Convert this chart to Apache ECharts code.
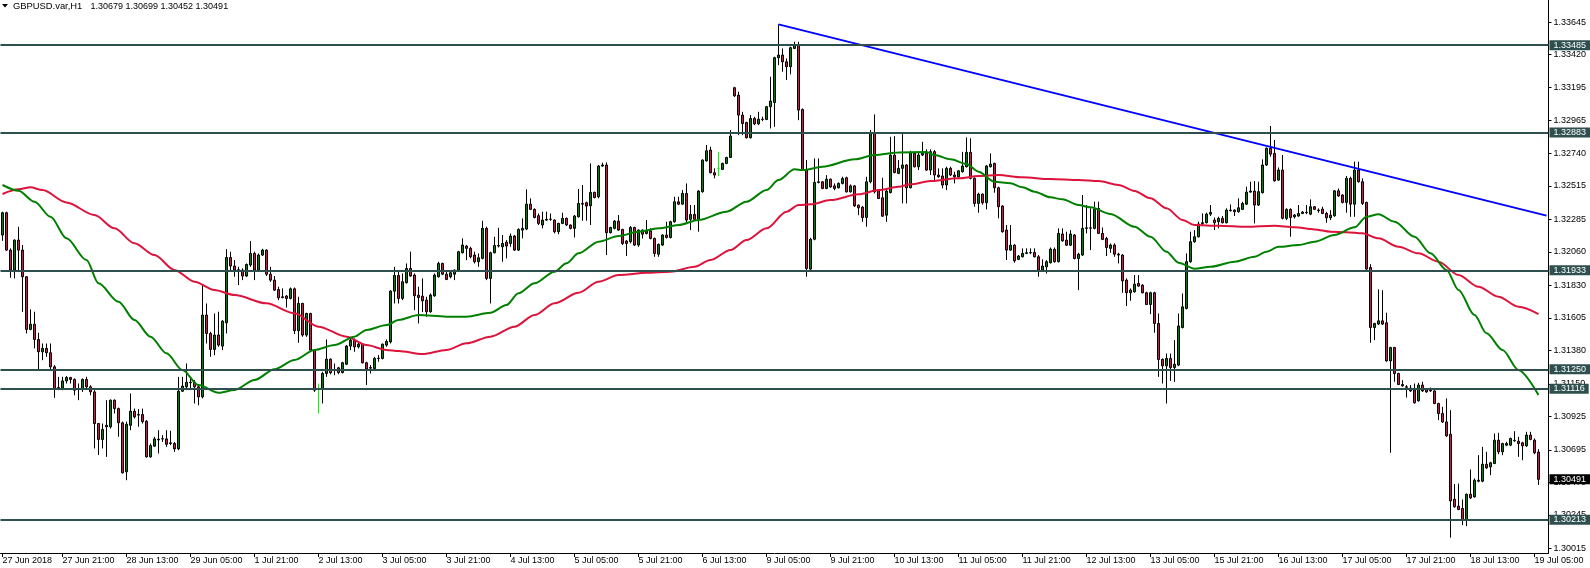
<!DOCTYPE html>
<html><head><meta charset="utf-8">
<script src="https://cdn.jsdelivr.net/npm/echarts@6/dist/echarts.min.js"></script>
<style>html,body{margin:0;padding:0;background:#fff;}#c{width:1590px;height:568px;}</style>
</head><body><div id="c"></div>
<script>
const symbolName = 'GBPUSD.var,H1';
const tickLabels = ['27 Jun 2018','27 Jun 21:00','28 Jun 13:00','29 Jun 05:00','1 Jul 21:00','2 Jul 13:00','3 Jul 05:00','3 Jul 21:00','4 Jul 13:00','5 Jul 05:00','5 Jul 21:00','6 Jul 13:00','9 Jul 05:00','9 Jul 21:00','10 Jul 13:00','11 Jul 05:00','11 Jul 21:00','12 Jul 13:00','13 Jul 05:00','15 Jul 21:00','16 Jul 13:00','17 Jul 05:00','17 Jul 21:00','18 Jul 13:00','19 Jul 05:00'];
const priceTicks = [1.33645,1.33420,1.33195,1.32965,1.32740,1.32515,1.32285,1.32060,1.31830,1.31605,1.31380,1.31150,1.30925,1.30695,1.30470,1.30245,1.30015];
const levels = [1.33485,1.32883,1.31933,1.31250,1.31116,1.30213];

const opens = [
1.32176,1.32330,1.32072,1.31934,1.32141,1.32072,1.31888,1.31525,1.31561,1.31456,
1.31371,1.31394,1.31364,1.31267,1.31124,1.31117,1.31170,1.31193,1.31180,1.31117,
1.31110,1.31180,1.31129,1.31094,1.30876,1.30766,1.30853,1.30853,1.31037,1.30979,
1.30881,1.30543,1.30864,1.30961,1.30938,1.30938,1.30892,1.30646,1.30720,1.30768,
1.30770,1.30770,1.30743,1.30738,1.30701,1.31099,1.31129,1.31161,1.31161,1.31129,
1.31060,1.31624,1.31497,1.31387,1.31486,1.31410,1.31571,1.32021,1.31962,1.31934,
1.31934,1.31893,1.31969,1.32049,1.31934,1.32038,1.32072,1.31906,1.31865,1.31800,
1.31750,1.31755,1.31739,1.31805,1.31516,1.31704,1.31486,1.31635,1.31382,1.31117,
1.31117,1.31221,1.31320,1.31244,1.31260,1.31228,1.31285,1.31410,1.31451,1.31405,
1.31423,1.31295,1.31258,1.31255,1.31325,1.31325,1.31417,1.31439,1.31789,1.31897,
1.31739,1.31847,1.31945,1.31900,1.31761,1.31754,1.31727,1.31647,1.31757,1.31888,
1.31980,1.31906,1.31888,1.31906,1.31934,1.32054,1.32100,1.32084,1.32038,1.31992,
1.32015,1.32222,1.31877,1.32054,1.32100,1.32095,1.32127,1.32118,1.32169,1.32072,
1.32210,1.32217,1.32389,1.32353,1.32309,1.32245,1.32284,1.32284,1.32279,1.32199,
1.32256,1.32291,1.32245,1.32222,1.32302,1.32394,1.32399,1.32378,1.32470,1.32440,
1.32652,1.32659,1.32192,1.32222,1.32272,1.32215,1.32134,1.32130,1.32228,1.32107,
1.32210,1.32187,1.32205,1.32152,1.32044,1.32107,1.32176,1.32159,1.32268,1.32405,
1.32389,1.32463,1.32284,1.32318,1.32284,1.32475,1.32688,1.32762,1.32606,1.32636,
1.32629,1.32670,1.32711,1.33192,1.33141,1.33003,1.32952,1.32847,1.32980,1.32943,
1.32975,1.32973,1.33061,1.33090,1.33399,1.33417,1.33371,1.33337,1.33463,1.33486,
1.33042,1.32624,1.31941,1.32147,1.32539,1.32543,1.32497,1.32561,1.32515,1.32502,
1.32532,1.32571,1.32474,1.32515,1.32382,1.32368,1.32297,1.32543,1.32883,1.32486,
1.32433,1.32313,1.32469,1.32727,1.32601,1.32636,1.32659,1.32502,1.32739,1.32647,
1.32728,1.32739,1.32624,1.32751,1.32590,1.32583,1.32521,1.32636,1.32590,1.32578,
1.32613,1.32647,1.32746,1.32567,1.32394,1.32458,1.32399,1.32647,1.32670,1.32502,
1.32376,1.32210,1.32072,1.32106,1.32008,1.32026,1.32049,1.32054,1.32056,1.32026,
1.31934,1.31957,1.31985,1.32077,1.31992,1.32183,1.32141,1.32106,1.32176,1.32014,
1.32038,1.32222,1.32226,1.32222,1.32359,1.32187,1.32152,1.32084,1.32107,1.32044,
1.32038,1.31865,1.31778,1.31785,1.31842,1.31830,1.31778,1.31697,1.31778,1.31566,
1.31318,1.31274,1.31325,1.31262,1.31279,1.31538,1.31670,1.31992,1.32130,1.32164,
1.32256,1.32261,1.32320,1.32279,1.32268,1.32291,1.32261,1.32348,1.32348,1.32337,
1.32353,1.32389,1.32472,1.32479,1.32383,1.32468,1.32659,1.32774,1.32739,1.32555,
1.32624,1.32291,1.32353,1.32302,1.32307,1.32325,1.32332,1.32320,1.32371,1.32348,
1.32355,1.32325,1.32295,1.32309,1.32481,1.32452,1.32401,1.32567,1.32389,1.32624,
1.32544,1.32401,1.31952,1.31538,1.31562,1.31584,1.31571,1.31308,1.31400,1.31221,
1.31145,1.31129,1.31120,1.31106,1.31033,1.31141,1.31110,1.31106,1.31101,1.31014,
1.30945,1.30887,1.30802,1.30354,1.30306,1.30290,1.30209,1.30388,1.30370,1.30485,
1.30478,1.30595,1.30577,1.30600,1.30761,1.30681,1.30727,1.30727,1.30760,1.30754,
1.30743,1.30722,1.30796,1.30761,1.30679];

const highs = [
1.32337,1.32337,1.32084,1.32146,1.32233,1.32107,1.31893,1.31663,1.31647,1.31502,
1.31428,1.31428,1.31428,1.31279,1.31198,1.31198,1.31203,1.31198,1.31187,1.31152,
1.31187,1.31198,1.31140,1.31106,1.30880,1.30876,1.31037,1.31042,1.31042,1.30986,
1.30889,1.30889,1.31083,1.30979,1.30975,1.30979,1.30899,1.30738,1.30784,1.30830,
1.30796,1.30830,1.30826,1.30749,1.31198,1.31198,1.31290,1.31198,1.31175,1.31140,
1.31831,1.31704,1.31509,1.31635,1.31647,1.31589,1.32079,1.32061,1.32003,1.31957,
1.31946,1.31980,1.32134,1.32061,1.32049,1.32081,1.32077,1.31957,1.31893,1.31819,
1.31808,1.31762,1.31814,1.31814,1.31750,1.31709,1.31640,1.31640,1.31387,1.31152,
1.31233,1.31456,1.31325,1.31290,1.31267,1.31302,1.31417,1.31474,1.31463,1.31433,
1.31428,1.31302,1.31279,1.31336,1.31348,1.31428,1.31456,1.31796,1.31957,1.31934,
1.31911,1.31980,1.32061,1.31911,1.31819,1.31877,1.31750,1.31773,1.31911,1.31992,
1.31985,1.31923,1.31923,1.31939,1.32067,1.32153,1.32107,1.32095,1.32061,1.32049,
1.32274,1.32233,1.32061,1.32164,1.32226,1.32176,1.32141,1.32187,1.32176,1.32222,
1.32291,1.32491,1.32429,1.32360,1.32325,1.32337,1.32337,1.32325,1.32284,1.32261,
1.32330,1.32297,1.32249,1.32314,1.32493,1.32521,1.32406,1.32670,1.32475,1.32659,
1.32675,1.32677,1.32233,1.32279,1.32314,1.32219,1.32141,1.32238,1.32233,1.32215,
1.32215,1.32279,1.32222,1.32159,1.32118,1.32182,1.32268,1.32274,1.32440,1.32440,
1.32486,1.32532,1.32383,1.32383,1.32486,1.32698,1.32797,1.32785,1.32636,1.32750,
1.32675,1.32716,1.32900,1.33198,1.33164,1.33026,1.32957,1.33003,1.32992,1.33026,
1.32992,1.33065,1.33268,1.33406,1.33629,1.33463,1.33394,1.33475,1.33509,1.33509,
1.33049,1.32693,1.32157,1.32704,1.32704,1.32548,1.32589,1.32566,1.32532,1.32539,
1.32578,1.32578,1.32525,1.32520,1.32387,1.32377,1.32578,1.32900,1.33008,1.32492,
1.32571,1.32486,1.32853,1.32858,1.32693,1.32872,1.32665,1.32757,1.32750,1.32750,
1.32819,1.32767,1.32767,1.32762,1.32636,1.32636,1.32647,1.32647,1.32613,1.32624,
1.32750,1.32849,1.32843,1.32574,1.32468,1.32463,1.32659,1.32739,1.32675,1.32509,
1.32382,1.32245,1.32245,1.32113,1.32038,1.32084,1.32084,1.32084,1.32084,1.32038,
1.32008,1.32003,1.32090,1.32090,1.32222,1.32222,1.32199,1.32210,1.32183,1.32054,
1.32452,1.32383,1.32360,1.32406,1.32406,1.32228,1.32164,1.32118,1.32118,1.32054,
1.32044,1.31877,1.31808,1.31900,1.31900,1.31837,1.31785,1.31785,1.31785,1.31635,
1.31325,1.31359,1.31359,1.31451,1.31635,1.31773,1.32049,1.32199,1.32210,1.32268,
1.32325,1.32330,1.32383,1.32297,1.32302,1.32307,1.32360,1.32387,1.32353,1.32429,
1.32405,1.32509,1.32544,1.32548,1.32544,1.32698,1.32780,1.32928,1.32831,1.32642,
1.32728,1.32360,1.32360,1.32320,1.32383,1.32341,1.32383,1.32422,1.32376,1.32360,
1.32371,1.32336,1.32348,1.32486,1.32497,1.32458,1.32583,1.32578,1.32682,1.32682,
1.32567,1.32406,1.31975,1.31571,1.31801,1.31796,1.31640,1.31405,1.31405,1.31226,
1.31175,1.31141,1.31141,1.31152,1.31157,1.31164,1.31117,1.31124,1.31106,1.31019,
1.30991,1.31049,1.30968,1.30458,1.30462,1.30352,1.30393,1.30559,1.30497,1.30658,
1.30715,1.30681,1.30612,1.30807,1.30812,1.30743,1.30750,1.30779,1.30823,1.30784,
1.30750,1.30819,1.30819,1.30773,1.30699];

const lows = [
1.32136,1.32067,1.31881,1.31877,1.31934,1.31646,1.31497,1.31520,1.31394,1.31251,
1.31313,1.31336,1.31244,1.31053,1.31106,1.31106,1.31152,1.31152,1.31071,1.31037,
1.31094,1.31117,1.31071,1.30704,1.30659,1.30704,1.30646,1.30841,1.30945,1.30784,
1.30531,1.30485,1.30830,1.30911,1.30853,1.30876,1.30641,1.30641,1.30715,1.30669,
1.30749,1.30715,1.30727,1.30680,1.30692,1.31094,1.31106,1.31106,1.31014,1.31002,
1.31049,1.31428,1.31336,1.31347,1.31405,1.31382,1.31497,1.31934,1.31888,1.31831,
1.31865,1.31888,1.31957,1.31865,1.31923,1.32031,1.31893,1.31853,1.31791,1.31727,
1.31739,1.31676,1.31732,1.31493,1.31433,1.31474,1.31474,1.31371,1.31094,1.30945,
1.31014,1.31198,1.31216,1.31209,1.31216,1.31221,1.31279,1.31382,1.31371,1.31394,
1.31290,1.31141,1.31221,1.31244,1.31302,1.31318,1.31405,1.31428,1.31704,1.31704,
1.31727,1.31842,1.31888,1.31658,1.31566,1.31646,1.31612,1.31640,1.31750,1.31883,
1.31900,1.31865,1.31877,1.31865,1.31929,1.32049,1.32003,1.32015,1.31980,1.31957,
1.32008,1.31865,1.31704,1.32049,1.32090,1.31992,1.32015,1.32095,1.32067,1.32067,
1.32153,1.32210,1.32348,1.32291,1.32245,1.32222,1.32274,1.32274,1.32187,1.32182,
1.32251,1.32238,1.32215,1.32159,1.32297,1.32274,1.32274,1.32245,1.32429,1.32429,
1.32647,1.32038,1.32187,1.32215,1.32205,1.32107,1.32031,1.32118,1.32100,1.32095,
1.32152,1.32180,1.32146,1.32026,1.32026,1.32100,1.32152,1.32152,1.32261,1.32383,
1.32385,1.32256,1.32210,1.32279,1.32199,1.32468,1.32682,1.32601,1.32567,1.32583,
1.32624,1.32665,1.32707,1.33129,1.32865,1.32865,1.32842,1.32842,1.32934,1.32934,
1.32962,1.32968,1.32911,1.32922,1.33348,1.33302,1.33245,1.33284,1.33458,1.32968,
1.32617,1.31888,1.31922,1.32140,1.32532,1.32492,1.32492,1.32502,1.32485,1.32497,
1.32525,1.32469,1.32469,1.32370,1.32313,1.32267,1.32233,1.32532,1.32463,1.32424,
1.32302,1.32267,1.32463,1.32601,1.32596,1.32394,1.32394,1.32498,1.32642,1.32624,
1.32721,1.32619,1.32590,1.32544,1.32571,1.32498,1.32486,1.32583,1.32532,1.32571,
1.32606,1.32642,1.32560,1.32371,1.32330,1.32385,1.32353,1.32642,1.32468,1.32291,
1.32192,1.32003,1.32067,1.31985,1.32003,1.32021,1.32044,1.32044,1.32021,1.31888,
1.31930,1.31911,1.31980,1.31985,1.31987,1.32130,1.32100,1.32100,1.32008,1.31796,
1.32031,1.32187,1.32072,1.32215,1.32183,1.32141,1.32031,1.32054,1.32026,1.31980,
1.31778,1.31686,1.31722,1.31778,1.31819,1.31773,1.31693,1.31630,1.31502,1.31198,
1.31152,1.31014,1.31170,1.31163,1.31272,1.31532,1.31663,1.31985,1.32123,1.32159,
1.32245,1.32256,1.32307,1.32210,1.32222,1.32256,1.32256,1.32337,1.32307,1.32330,
1.32348,1.32383,1.32468,1.32256,1.32376,1.32463,1.32652,1.32716,1.32544,1.32550,
1.32284,1.32279,1.32164,1.32290,1.32302,1.32320,1.32320,1.32313,1.32348,1.32330,
1.32320,1.32261,1.32279,1.32302,1.32440,1.32394,1.32330,1.32302,1.32302,1.32537,
1.32383,1.31934,1.31433,1.31451,1.31555,1.31555,1.31302,1.30674,1.31164,1.31141,
1.31129,1.31055,1.31094,1.31014,1.31027,1.31094,1.31088,1.31094,1.31009,1.30899,
1.30881,1.30784,1.30089,1.30296,1.30278,1.30175,1.30168,1.30356,1.30365,1.30471,
1.30471,1.30563,1.30520,1.30596,1.30664,1.30658,1.30720,1.30720,1.30750,1.30646,
1.30623,1.30715,1.30761,1.30664,1.30452];

const closes = [
1.32330,1.32072,1.31934,1.32141,1.32072,1.31888,1.31525,1.31561,1.31456,1.31371,
1.31394,1.31364,1.31267,1.31117,1.31117,1.31170,1.31193,1.31180,1.31106,1.31110,
1.31180,1.31129,1.31094,1.30876,1.30766,1.30835,1.30864,1.31037,1.30979,1.30881,
1.30536,1.30871,1.30961,1.30922,1.30934,1.30889,1.30646,1.30724,1.30770,1.30763,
1.30771,1.30733,1.30738,1.30701,1.31099,1.31134,1.31161,1.31157,1.31129,1.31060,
1.31624,1.31497,1.31387,1.31486,1.31417,1.31582,1.32021,1.31962,1.31934,1.31936,
1.31893,1.31973,1.32049,1.31934,1.32038,1.32072,1.31906,1.31865,1.31796,1.31743,
1.31745,1.31739,1.31805,1.31516,1.31704,1.31486,1.31635,1.31382,1.31106,1.31117,
1.31221,1.31320,1.31226,1.31249,1.31228,1.31295,1.31410,1.31451,1.31405,1.31423,
1.31295,1.31251,1.31262,1.31325,1.31326,1.31423,1.31442,1.31789,1.31897,1.31739,
1.31854,1.31945,1.31893,1.31757,1.31745,1.31722,1.31647,1.31762,1.31900,1.31980,
1.31906,1.31870,1.31916,1.31934,1.32061,1.32107,1.32084,1.32026,1.31992,1.32019,
1.32222,1.31877,1.32054,1.32104,1.32104,1.32118,1.32100,1.32169,1.32072,1.32215,
1.32222,1.32389,1.32353,1.32297,1.32256,1.32279,1.32279,1.32286,1.32199,1.32256,
1.32291,1.32245,1.32222,1.32307,1.32394,1.32389,1.32376,1.32470,1.32435,1.32652,
1.32659,1.32192,1.32228,1.32272,1.32210,1.32118,1.32118,1.32228,1.32107,1.32210,
1.32182,1.32205,1.32152,1.32049,1.32111,1.32176,1.32159,1.32268,1.32405,1.32389,
1.32463,1.32279,1.32318,1.32284,1.32479,1.32693,1.32757,1.32606,1.32590,1.32636,
1.32670,1.32711,1.32859,1.33136,1.33003,1.32945,1.32847,1.32980,1.32943,1.32975,
1.32973,1.33061,1.33100,1.33399,1.33417,1.33371,1.33337,1.33468,1.33486,1.33038,
1.32624,1.31945,1.32147,1.32539,1.32543,1.32497,1.32561,1.32508,1.32497,1.32532,
1.32566,1.32474,1.32515,1.32377,1.32364,1.32297,1.32543,1.32883,1.32474,1.32428,
1.32306,1.32479,1.32727,1.32607,1.32636,1.32659,1.32502,1.32744,1.32647,1.32728,
1.32739,1.32624,1.32751,1.32590,1.32578,1.32521,1.32636,1.32590,1.32578,1.32619,
1.32652,1.32746,1.32567,1.32394,1.32458,1.32399,1.32652,1.32665,1.32502,1.32371,
1.32199,1.32072,1.32106,1.31998,1.32031,1.32049,1.32054,1.32055,1.32026,1.31934,
1.31962,1.31992,1.32079,1.31992,1.32187,1.32136,1.32106,1.32183,1.32014,1.32044,
1.32222,1.32226,1.32223,1.32353,1.32187,1.32146,1.32090,1.32107,1.32044,1.32038,
1.31860,1.31778,1.31796,1.31837,1.31824,1.31778,1.31697,1.31778,1.31566,1.31318,
1.31274,1.31325,1.31262,1.31285,1.31548,1.31681,1.31992,1.32130,1.32164,1.32252,
1.32261,1.32320,1.32332,1.32261,1.32291,1.32261,1.32348,1.32344,1.32337,1.32364,
1.32394,1.32472,1.32479,1.32383,1.32475,1.32659,1.32774,1.32734,1.32550,1.32624,
1.32291,1.32353,1.32297,1.32314,1.32325,1.32334,1.32330,1.32371,1.32353,1.32344,
1.32325,1.32295,1.32313,1.32481,1.32445,1.32401,1.32567,1.32389,1.32624,1.32544,
1.32394,1.31941,1.31538,1.31566,1.31584,1.31562,1.31308,1.31400,1.31221,1.31145,
1.31136,1.31126,1.31101,1.31019,1.31141,1.31101,1.31094,1.31101,1.31014,1.30945,
1.30887,1.30791,1.30342,1.30302,1.30283,1.30209,1.30388,1.30363,1.30485,1.30478,
1.30595,1.30570,1.30605,1.30761,1.30681,1.30738,1.30738,1.30773,1.30757,1.30738,
1.30722,1.30796,1.30766,1.30674,1.30491];

const maFast = [[0,1.32521],[4,1.32482],[8,1.32406],[12,1.32302],[16,1.32153],[21,1.32004],[24,1.31843],[29,1.31716],[33,1.31590],[37,1.31475],[41,1.31360],[45,1.31245],[49,1.31141],[54,1.31088],[58,1.31107],[63,1.31176],[68,1.31250],[73,1.31314],[78,1.31383],[83,1.31417],[88,1.31475],[91,1.31521],[96,1.31555],[99,1.31590],[104,1.31624],[111,1.31613],[116,1.31613],[122,1.31640],[126,1.31693],[129,1.31774],[133,1.31843],[138,1.31923],[141,1.31981],[144,1.32050],[149,1.32130],[154,1.32169],[159,1.32199],[164,1.32222],[169,1.32245],[174,1.32280],[181,1.32337],[186,1.32406],[191,1.32486],[194,1.32555],[198,1.32629],[200,1.32624],[205,1.32647],[213,1.32698],[218,1.32728],[224,1.32746],[231,1.32748],[233,1.32728],[237,1.32698],[241,1.32666],[244,1.32613],[248,1.32544],[252,1.32533],[255,1.32505],[258,1.32475],[262,1.32436],[265,1.32422],[269,1.32383],[272,1.32367],[277,1.32321],[283,1.32233],[287,1.32164],[291,1.32061],[294,1.31985],[298,1.31944],[302,1.31957],[308,1.31992],[313,1.32026],[316,1.32061],[319,1.32095],[324,1.32107],[328,1.32130],[333,1.32176],[338,1.32229],[341,1.32302],[344,1.32319],[348,1.32268],[353,1.32164],[357,1.32050],[361,1.31935],[364,1.31797],[368,1.31624],[371,1.31498],[375,1.31383],[379,1.31245],[384,1.31072]];
const maSlow = [[0,1.32459],[4,1.32491],[7,1.32505],[10,1.32486],[16,1.32401],[23,1.32314],[28,1.32222],[33,1.32119],[38,1.32038],[43,1.31935],[48,1.31854],[53,1.31797],[58,1.31762],[66,1.31705],[73,1.31636],[79,1.31544],[86,1.31475],[91,1.31417],[96,1.31383],[99,1.31376],[105,1.31355],[111,1.31383],[116,1.31429],[122,1.31475],[128,1.31544],[133,1.31624],[138,1.31705],[144,1.31778],[149,1.31854],[154,1.31900],[161,1.31916],[167,1.31923],[173,1.31957],[177,1.32004],[182,1.32073],[186,1.32142],[191,1.32222],[196,1.32337],[199,1.32383],[202,1.32388],[207,1.32417],[214,1.32457],[219,1.32486],[224,1.32509],[227,1.32526],[232,1.32548],[239,1.32567],[244,1.32583],[249,1.32590],[255,1.32574],[262,1.32562],[269,1.32555],[274,1.32548],[279,1.32521],[283,1.32480],[287,1.32429],[291,1.32360],[295,1.32280],[298,1.32245],[304,1.32240],[311,1.32233],[318,1.32240],[323,1.32229],[328,1.32215],[332,1.32199],[336,1.32195],[340,1.32188],[344,1.32153],[349,1.32095],[354,1.32050],[359,1.31992],[364,1.31900],[369,1.31819],[374,1.31750],[379,1.31681],[384,1.31631]];
const trendLine = [[194,1.33629],[386,1.32310]];

// axis extent (price at top and bottom edge of the plot)
const yTop = 1.33797, yBottom = 1.29983;
const emptyBarsRight = 2;

const n = opens.length;
const cats = Array.from({length: n + emptyBarsRight}, (_, i) => 'b' + i);
const labelAt = {};
labelAt[0] = tickLabels[0];
for (let k = 1; k < tickLabels.length; k++) labelAt[15 + 16 * (k - 1)] = tickLabels[k];
const showIdx = (i) => labelAt[i] !== undefined;

const LIME = '#00FF00';
const candleData = opens.map((o, i) => {
  const item = { value: [o, closes[i], lows[i], highs[i]] };
  if (o === closes[i]) item.itemStyle = { color: LIME, color0: LIME, borderColor: LIME, borderColor0: LIME, borderColorDoji: LIME };
  return item;
});

const fmt = v => Number(v).toFixed(5);
const FONT = 'Liberation Sans, Arial, sans-serif';
const boxLabel = (bg) => ({ show: true, position: 'end', distance: 1, formatter: p => fmt(p.value), color: '#fff', backgroundColor: bg, padding: [1, 4, 0, 4], fontSize: 9, fontFamily: FONT });

const chart = echarts.init(document.getElementById('c'), null, { renderer: 'canvas' });
chart.setOption({
  animation: false,
  backgroundColor: '#ffffff',
  grid: { left: 0.5, right: 41.5, top: 0, bottom: 15, containLabel: false, outerBoundsMode: 'none' },
  xAxis: {
    type: 'category', data: cats, boundaryGap: true,
    axisLine: { show: true, lineStyle: { color: '#000', width: 1 } },
    axisTick: { show: true, alignWithLabel: true, interval: (i) => showIdx(i), length: 4, lineStyle: { color: '#000' } },
    axisLabel: { interval: (i) => showIdx(i), formatter: (v, i) => labelAt[i] || '', align: 'left', color: '#000', fontSize: 9, fontFamily: FONT, margin: 3, hideOverlap: false },
    splitLine: { show: false }
  },
  yAxis: {
    type: 'value', position: 'right', min: yBottom, max: yTop, scale: true,
    axisLine: { show: true, lineStyle: { color: '#000', width: 1 } },
    axisTick: { show: true, length: 3, customValues: priceTicks, lineStyle: { color: '#000' } },
    axisLabel: { customValues: priceTicks, formatter: v => fmt(v), color: '#000', fontSize: 9, fontFamily: FONT, margin: 5 },
    splitLine: { show: false }
  },
  graphic: [
    { type: 'polygon', shape: { points: [[2, 4], [8, 4], [5, 7.5]] }, style: { fill: '#000' } },
    { type: 'text', x: 13, y: 6.5, style: { text: symbolName, fill: '#000', font: '9.4px ' + FONT, verticalAlign: 'middle' } },
    { type: 'text', x: 90.5, y: 6.5, style: { text: [opens[n-1], highs[n-1], lows[n-1], closes[n-1]].map(fmt).join(' '), fill: '#000', font: '9px ' + FONT, verticalAlign: 'middle' } }
  ],
  series: [
    {
      type: 'candlestick', data: candleData, barWidth: 2, z: 2,
      itemStyle: { color: '#008000', color0: '#DC143C', borderColor: '#000', borderColor0: '#000', borderColorDoji: '#000', borderWidth: 1 }
    },
    { type: 'line', data: maSlow, symbol: 'none', smooth: 0.3, smoothMonotone: 'x', z: 3, lineStyle: { color: '#DC143C', width: 2 } },
    { type: 'line', data: maFast, symbol: 'none', smooth: 0.3, smoothMonotone: 'x', z: 3, lineStyle: { color: '#008000', width: 2 } },
    {
      type: 'line', data: trendLine, symbol: 'none', z: 4, lineStyle: { color: '#0000FF', width: 2 },
      markLine: {
        symbol: 'none', silent: true, animation: false, precision: 5,
        lineStyle: { color: '#2F4F4F', width: 2, type: 'solid' },
        label: boxLabel('#2F4F4F'),
        data: levels.map(v => ({ yAxis: v }))
      }
    },
    {
      type: 'line', data: [], symbol: 'none', z: 5,
      markLine: {
        symbol: 'none', silent: true, animation: false, precision: 5,
        lineStyle: { color: 'rgba(0,0,0,0)', width: 1, type: 'solid' },
        label: boxLabel('#000000'),
        data: [{ yAxis: closes[n-1] }]
      }
    }
  ]
});
</script>
</body></html>
